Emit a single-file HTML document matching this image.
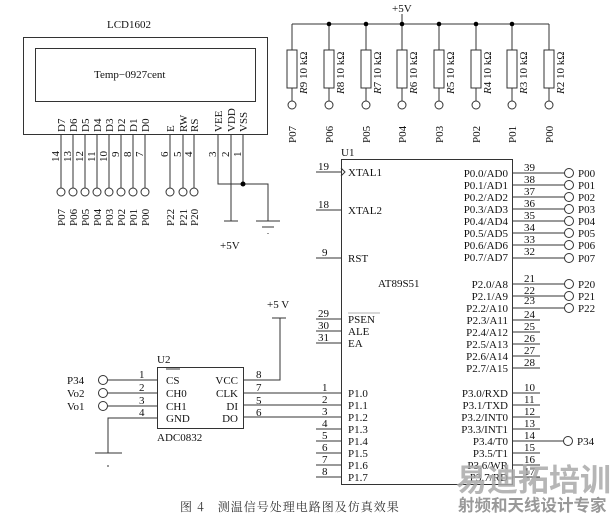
<!DOCTYPE html>
<html><head><meta charset="utf-8"><style>
html,body{margin:0;padding:0;background:#fff;width:613px;height:516px;overflow:hidden}
svg{display:block}
text{font-family:"Liberation Serif","Noto Serif CJK SC",serif;font-size:11px;fill:#111}
</style></head><body>
<svg width="613" height="516" viewBox="0 0 613 516" xmlns="http://www.w3.org/2000/svg">
<g stroke="#333" stroke-width="1" fill="none">
<rect x="23.5" y="37.5" width="244" height="97"/>
<rect x="35.5" y="48.5" width="220" height="53"/>
<path d="M61 135V188M73 135V188M85 135V188M97 135V188M109 135V188M121 135V188M133 135V188M145 135V188M170 135V188M183 135V188M194 135V188"/>
<path d="M218 135V184H268V221M243 135V184M231 135V221M224 221H238M256 221H280M262 227H274M268 233V234"/>
<g fill="#fff">
<circle cx="61" cy="192" r="4"/><circle cx="73" cy="192" r="4"/><circle cx="85" cy="192" r="4"/><circle cx="97" cy="192" r="4"/><circle cx="109" cy="192" r="4"/><circle cx="121" cy="192" r="4"/><circle cx="133" cy="192" r="4"/><circle cx="145" cy="192" r="4"/><circle cx="170" cy="192" r="4"/><circle cx="183" cy="192" r="4"/><circle cx="194" cy="192" r="4"/>
</g>
<path d="M292 24H549M402 14V24"/>
<path d="M292 24V50M292 88V101M329 24V50M329 88V101M366 24V50M366 88V101M402 24V50M402 88V101M439 24V50M439 88V101M476 24V50M476 88V101M512 24V50M512 88V101M549 24V50M549 88V101"/>
<g fill="#fff">
<rect x="287" y="50" width="10" height="38"/><rect x="324" y="50" width="10" height="38"/><rect x="361" y="50" width="10" height="38"/><rect x="397" y="50" width="10" height="38"/><rect x="434" y="50" width="10" height="38"/><rect x="471" y="50" width="10" height="38"/><rect x="507" y="50" width="10" height="38"/><rect x="544" y="50" width="10" height="38"/>
<circle cx="292" cy="105" r="4"/><circle cx="329" cy="105" r="4"/><circle cx="366" cy="105" r="4"/><circle cx="402" cy="105" r="4"/><circle cx="439" cy="105" r="4"/><circle cx="476" cy="105" r="4"/><circle cx="512" cy="105" r="4"/><circle cx="549" cy="105" r="4"/>
</g>
<rect x="341.5" y="159.5" width="171" height="325"/>
<path d="M316 172H341M316 210H341M316 258H341M316 319H341M316 331H341M316 343H341"/>
<path d="M512 173H565M512 185H565M512 197H565M512 209H565M512 221H565M512 233H565M512 245H565M512 258H565M512 284H565M512 296H565M512 308H565"/>
<path d="M512 320H540M512 332H540M512 344H540M512 356H540M512 368H540"/>
<path d="M270 393H341M270 405H341M243 417H341M316 429H341M316 441H341M316 453H341M316 465H341M316 477H341"/>
<path d="M512 393H540M512 405H540M512 417H540M512 429H540M512 441H564M512 453H540M512 465H540M512 477H540"/>
<path d="M243 393H270M243 405H270"/>
<g fill="#fff">
<circle cx="569" cy="173" r="4.5"/><circle cx="569" cy="185" r="4.5"/><circle cx="569" cy="197" r="4.5"/><circle cx="569" cy="209" r="4.5"/><circle cx="569" cy="221" r="4.5"/><circle cx="569" cy="233" r="4.5"/><circle cx="569" cy="245" r="4.5"/><circle cx="569" cy="258" r="4.5"/><circle cx="569" cy="284" r="4.5"/><circle cx="569" cy="296" r="4.5"/><circle cx="569" cy="308" r="4.5"/><circle cx="568" cy="441" r="4.5"/>
</g>
<path d="M341 168L345 172L341 176"/>
<rect x="157.5" y="367.5" width="86" height="61"/>
<path d="M107 380H157M107 393H157M107 406H157M157 418H108V453M95 453H122M108 465V467"/>
<path d="M243 380H280V318M272 318H286"/>
<g fill="#fff"><circle cx="103" cy="380" r="4.5"/><circle cx="103" cy="393" r="4.5"/><circle cx="103" cy="406" r="4.5"/></g>
<path d="M166 369H180"/>
</g>
<g fill="#000">
<circle cx="243" cy="184" r="2.5"/>
<circle cx="329" cy="24" r="2.3"/><circle cx="366" cy="24" r="2.3"/><circle cx="402" cy="24" r="2.3"/><circle cx="439" cy="24" r="2.3"/><circle cx="476" cy="24" r="2.3"/><circle cx="512" cy="24" r="2.3"/>
</g>
<text x="107" y="28">LCD1602</text>
<text x="94" y="78">Temp−0927cent</text>
<g>
<text transform="translate(65,132) rotate(-90)">D7</text><text transform="translate(77,132) rotate(-90)">D6</text><text transform="translate(89,132) rotate(-90)">D5</text><text transform="translate(101,132) rotate(-90)">D4</text><text transform="translate(113,132) rotate(-90)">D3</text><text transform="translate(125,132) rotate(-90)">D2</text><text transform="translate(137,132) rotate(-90)">D1</text><text transform="translate(149,132) rotate(-90)">D0</text>
<text transform="translate(174,132) rotate(-90)">E</text><text transform="translate(187,132) rotate(-90)">RW</text><text transform="translate(198,132) rotate(-90)">RS</text>
<text transform="translate(222,132) rotate(-90)">VEE</text><text transform="translate(235,132) rotate(-90)">VDD</text><text transform="translate(247,132) rotate(-90)">VSS</text>
<text transform="translate(59,162) rotate(-90)">14</text><text transform="translate(71,162) rotate(-90)">13</text><text transform="translate(83,162) rotate(-90)">12</text><text transform="translate(95,162) rotate(-90)">11</text><text transform="translate(107,162) rotate(-90)">10</text><text transform="translate(119,157) rotate(-90)">9</text><text transform="translate(131,157) rotate(-90)">8</text><text transform="translate(143,157) rotate(-90)">7</text>
<text transform="translate(168,157) rotate(-90)">6</text><text transform="translate(181,157) rotate(-90)">5</text><text transform="translate(192,157) rotate(-90)">4</text>
<text transform="translate(216,157) rotate(-90)">3</text><text transform="translate(229,157) rotate(-90)">2</text><text transform="translate(241,157) rotate(-90)">1</text>
<text transform="translate(65,226) rotate(-90)">P07</text><text transform="translate(77,226) rotate(-90)">P06</text><text transform="translate(89,226) rotate(-90)">P05</text><text transform="translate(101,226) rotate(-90)">P04</text><text transform="translate(113,226) rotate(-90)">P03</text><text transform="translate(125,226) rotate(-90)">P02</text><text transform="translate(137,226) rotate(-90)">P01</text><text transform="translate(149,226) rotate(-90)">P00</text>
<text transform="translate(174,226) rotate(-90)">P22</text><text transform="translate(187,226) rotate(-90)">P21</text><text transform="translate(198,226) rotate(-90)">P20</text>
</g>
<text x="220" y="249">+5V</text>
<text x="392" y="12">+5V</text>
<g>
<text transform="translate(296,143) rotate(-90)">P07</text><text transform="translate(333,143) rotate(-90)">P06</text><text transform="translate(370,143) rotate(-90)">P05</text><text transform="translate(406,143) rotate(-90)">P04</text><text transform="translate(443,143) rotate(-90)">P03</text><text transform="translate(480,143) rotate(-90)">P02</text><text transform="translate(516,143) rotate(-90)">P01</text><text transform="translate(553,143) rotate(-90)">P00</text>
<text transform="translate(307,94) rotate(-90)"><tspan font-style="italic">R</tspan>9 10 kΩ</text>
<text transform="translate(344,94) rotate(-90)"><tspan font-style="italic">R</tspan>8 10 kΩ</text>
<text transform="translate(381,94) rotate(-90)"><tspan font-style="italic">R</tspan>7 10 kΩ</text>
<text transform="translate(417,94) rotate(-90)"><tspan font-style="italic">R</tspan>6 10 kΩ</text>
<text transform="translate(454,94) rotate(-90)"><tspan font-style="italic">R</tspan>5 10 kΩ</text>
<text transform="translate(491,94) rotate(-90)"><tspan font-style="italic">R</tspan>4 10 kΩ</text>
<text transform="translate(527,94) rotate(-90)"><tspan font-style="italic">R</tspan>3 10 kΩ</text>
<text transform="translate(564,94) rotate(-90)"><tspan font-style="italic">R</tspan>2 10 kΩ</text>
</g>
<text x="341" y="156">U1</text>
<text x="318" y="170">19</text><text x="318" y="208">18</text><text x="322" y="256">9</text><text x="318" y="317">29</text><text x="318" y="329">30</text><text x="318" y="341">31</text>
<text x="348" y="176">XTAL1</text><text x="348" y="214">XTAL2</text><text x="348" y="262">RST</text>
<text x="348" y="323">PSEN</text><text x="348" y="335">ALE</text><text x="348" y="347">EA</text>
<path d="M348 313H380" stroke="#999" stroke-width="0.7"/>
<text x="378" y="287">AT89S51</text>
<g text-anchor="end">
<text x="508" y="177">P0.0/AD0</text><text x="508" y="189">P0.1/AD1</text><text x="508" y="201">P0.2/AD2</text><text x="508" y="213">P0.3/AD3</text><text x="508" y="225">P0.4/AD4</text><text x="508" y="237">P0.5/AD5</text><text x="508" y="249">P0.6/AD6</text><text x="508" y="261">P0.7/AD7</text>
<text x="508" y="288">P2.0/A8</text><text x="508" y="300">P2.1/A9</text><text x="508" y="312">P2.2/A10</text><text x="508" y="324">P2.3/A11</text><text x="508" y="336">P2.4/A12</text><text x="508" y="348">P2.5/A13</text><text x="508" y="360">P2.6/A14</text><text x="508" y="372">P2.7/A15</text>
<text x="508" y="397">P3.0/RXD</text><text x="508" y="409">P3.1/TXD</text><text x="508" y="421">P3.2/INT0</text><text x="508" y="433">P3.3/INT1</text><text x="508" y="445">P3.4/T0</text><text x="508" y="457">P3.5/T1</text><text x="508" y="469">P3.6/WR</text><text x="508" y="481">P3.7/RD</text>
</g>
<g>
<text x="524" y="171">39</text><text x="524" y="183">38</text><text x="524" y="195">37</text><text x="524" y="207">36</text><text x="524" y="219">35</text><text x="524" y="231">34</text><text x="524" y="243">33</text><text x="524" y="255">32</text>
<text x="524" y="282">21</text><text x="524" y="294">22</text><text x="524" y="304">23</text><text x="524" y="318">24</text><text x="524" y="330">25</text><text x="524" y="342">26</text><text x="524" y="354">27</text><text x="524" y="366">28</text>
<text x="524" y="391">10</text><text x="524" y="403">11</text><text x="524" y="415">12</text><text x="524" y="427">13</text><text x="524" y="439">14</text><text x="524" y="451">15</text><text x="524" y="463">16</text><text x="524" y="475">17</text>
<text x="578" y="177">P00</text><text x="578" y="189">P01</text><text x="578" y="201">P02</text><text x="578" y="213">P03</text><text x="578" y="225">P04</text><text x="578" y="237">P05</text><text x="578" y="249">P06</text><text x="578" y="262">P07</text>
<text x="578" y="288">P20</text><text x="578" y="300">P21</text><text x="578" y="312">P22</text><text x="577" y="445">P34</text>
<text x="348" y="397">P1.0</text><text x="348" y="409">P1.1</text><text x="348" y="421">P1.2</text><text x="348" y="433">P1.3</text><text x="348" y="445">P1.4</text><text x="348" y="457">P1.5</text><text x="348" y="469">P1.6</text><text x="348" y="481">P1.7</text>
<text x="322" y="391">1</text><text x="322" y="403">2</text><text x="322" y="415">3</text><text x="322" y="427">4</text><text x="322" y="439">5</text><text x="322" y="451">6</text><text x="322" y="463">7</text><text x="322" y="475">8</text>
</g>
<text x="157" y="363">U2</text>
<text x="166" y="384">CS</text><text x="166" y="397">CH0</text><text x="166" y="410">CH1</text><text x="166" y="422">GND</text>
<g text-anchor="end"><text x="238" y="384">VCC</text><text x="238" y="397">CLK</text><text x="238" y="410">DI</text><text x="238" y="422">DO</text></g>
<text x="157" y="441">ADC0832</text>
<text x="139" y="378">1</text><text x="139" y="391">2</text><text x="139" y="404">3</text><text x="139" y="416">4</text>
<text x="256" y="378">8</text><text x="256" y="391">7</text><text x="256" y="404">5</text><text x="256" y="416">6</text>
<text x="67" y="384">P34</text><text x="67" y="397">Vo2</text><text x="67" y="410">Vo1</text>
<text x="267" y="308">+5 V</text>
<text x="180" y="511" style="font-family:'Noto Serif CJK SC','Noto Sans CJK SC',serif;font-size:12px;letter-spacing:1px;fill:#333">图 4　测温信号处理电路图及仿真效果</text>
<text x="456" y="491" style="font-family:'Noto Sans CJK SC',sans-serif;font-size:31px;font-weight:bold;fill:#aaa;opacity:0.85">易迪拓培训</text>
<text x="458" y="511" style="font-family:'Noto Sans CJK SC',sans-serif;font-size:16.5px;font-weight:bold;fill:#999">射频和天线设计专家</text>
</svg>
</body></html>
